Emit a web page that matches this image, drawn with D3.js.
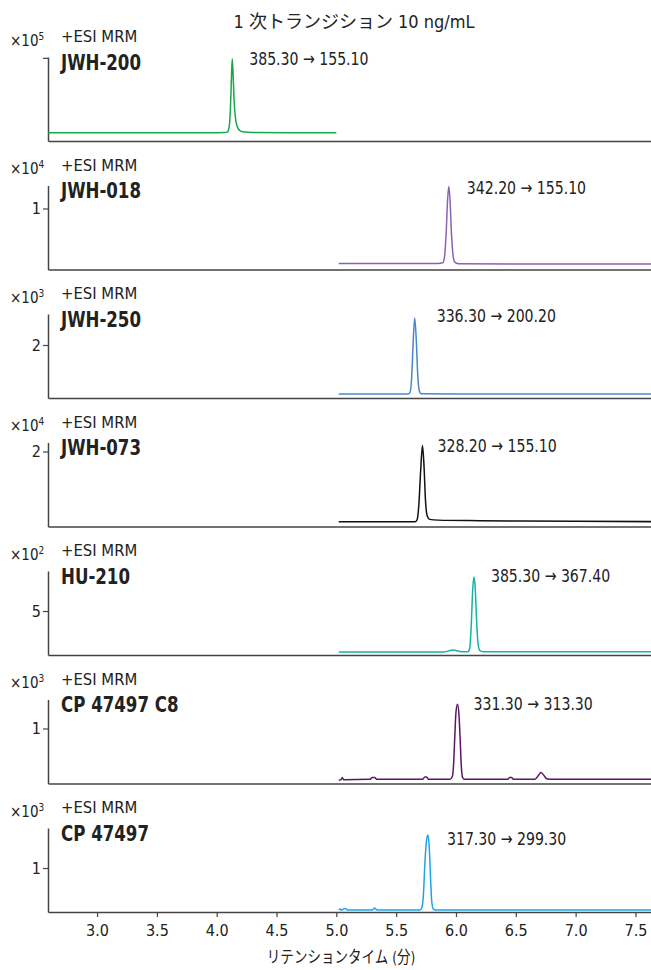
<!DOCTYPE html>
<html>
<head>
<meta charset="utf-8">
<script src="https://cdn.jsdelivr.net/npm/d3@7"></script>
<style>
  html, body { margin: 0; padding: 0; background: #fff; }
  svg text { font-family: "DejaVu Sans Condensed", "Noto Sans CJK JP", sans-serif; fill: #222; }
</style>
</head>
<body>
<svg id="chart" width="651" height="970"></svg>
<script>
// MRM chromatograms, primary transitions, 10 ng/mL
const compounds   = ["JWH-200", "JWH-018", "JWH-250", "JWH-073", "HU-210", "CP 47497 C8", "CP 47497"];
const transitions = ["385.30 → 155.10", "342.20 → 155.10", "336.30 → 200.20", "328.20 → 155.10",
                     "385.30 → 367.40", "331.30 → 313.30", "317.30 → 299.30"];
const scanMode    = "+ESI MRM";
const exponents   = [5, 4, 3, 4, 2, 3, 3];
const yTickValues = [1, 1, 2, 2, 5, 1, 1];
const yTickLabels = ["", "1", "2", "2", "5", "1", "1"];
const yMaxValues  = [1.01, 1.377, 3.17, 2.24, 9.55, 1.527, 1.91];
const xTicks      = [3.0, 3.5, 4.0, 4.5, 5.0, 5.5, 6.0, 6.5, 7.0, 7.5];
const xTickLabels = ["3.0", "3.5", "4.0", "4.5", "5.0", "5.5", "6.0", "6.5", "7.0", "7.5"];
const xDomain     = [2.59, 7.63];
const peakTimes   = [4.13, 5.94, 5.655, 5.72, 6.15, 6.013, 5.766];

// [retention time (min), intensity (x10^n counts)]
const traceJWH200 = [[2.59,0.10],[3.50,0.10],[4.00,0.10],[4.07,0.102],[4.09,0.11],[4.105,0.18],[4.115,0.40],
  [4.123,0.75],[4.13,0.99],[4.137,0.80],[4.145,0.50],[4.155,0.30],[4.17,0.18],[4.19,0.13],[4.22,0.11],
  [4.30,0.102],[4.60,0.10],[5.00,0.10]];
const traceJWH018 = [[5.02,0.10],[5.50,0.10],[5.85,0.10],[5.89,0.11],[5.905,0.22],[5.918,0.60],[5.93,1.15],
  [5.94,1.36],[5.95,1.15],[5.962,0.60],[5.975,0.24],[5.99,0.12],[6.02,0.095],[6.50,0.09],[7.63,0.09]];
const traceJWH250 = [[5.02,0.15],[5.40,0.15],[5.60,0.15],[5.615,0.20],[5.63,0.80],[5.642,2.10],[5.655,3.02],
  [5.668,2.20],[5.68,0.90],[5.695,0.25],[5.71,0.16],[6.00,0.15],[7.63,0.15]];
const traceJWH073 = [[5.02,0.13],[5.50,0.13],[5.66,0.13],[5.675,0.18],[5.69,0.60],[5.705,1.50],[5.72,2.16],
  [5.733,1.60],[5.745,0.70],[5.76,0.28],[5.78,0.19],[5.85,0.17],[6.20,0.155],[7.00,0.14],[7.63,0.13]];
const traceHU210  = [[5.02,0.34],[5.50,0.34],[5.90,0.35],[5.95,0.50],[5.975,0.58],[6.00,0.50],[6.05,0.36],
  [6.10,0.37],[6.115,0.80],[6.128,3.50],[6.14,7.50],[6.15,8.86],[6.16,7.80],[6.172,4.00],[6.185,1.20],
  [6.20,0.50],[6.23,0.38],[6.50,0.36],[7.63,0.36]];
const traceCP47497C8 = [[5.02,0.06],[5.04,0.07],[5.05,0.11],[5.06,0.07],[5.28,0.075],[5.30,0.11],[5.32,0.11],
  [5.34,0.075],[5.72,0.075],[5.74,0.12],[5.755,0.12],[5.77,0.075],[5.95,0.075],[5.97,0.13],[5.98,0.35],
  [5.99,0.85],[6.00,1.30],[6.013,1.44],[6.025,1.25],[6.035,0.80],[6.045,0.30],[6.055,0.11],[6.07,0.075],
  [6.43,0.075],[6.45,0.11],[6.465,0.11],[6.48,0.075],[6.66,0.075],[6.69,0.15],[6.71,0.20],[6.73,0.16],
  [6.76,0.085],[6.80,0.075],[7.63,0.075]];
const traceCP47497 = [[5.02,0.045],[5.035,0.07],[5.045,0.04],[5.06,0.07],[5.075,0.08],[5.09,0.05],[5.10,0.045],
  [5.30,0.045],[5.32,0.09],[5.34,0.045],[5.70,0.045],[5.715,0.10],[5.728,0.40],[5.74,1.10],[5.755,1.65],
  [5.766,1.75],[5.776,1.50],[5.787,0.80],[5.797,0.25],[5.81,0.07],[5.83,0.045],[7.63,0.045]];
const traces = [traceJWH200, traceJWH018, traceJWH250, traceJWH073, traceHU210, traceCP47497C8, traceCP47497];

// styling / layout
const colors = ["#17a84b", "#8b62b3", "#4a86cf", "#111111", "#17b2a8", "#5b1763", "#1ca6e6"];
const labelDx = [17, 18, 22, 15, 17, 16, 19];
const labelDy = [-76, -76, -76, -75, -73, -74, -67];
const firstBottom = 141, panelStep = 128.5, panelHeight = 84;
const left = 48, right = 651;

const svg = d3.select("#chart");
const x = d3.scaleLinear().domain(xDomain).range([left, right]);
const line = d3.line().curve(d3.curveMonotoneX);

// text drawn with a narrow horizontal squeeze (condensed face)
function label(parent, tx, ty, str, size, sx, opts = {}) {
  const t = parent.append("text")
    .attr("transform", `translate(${tx},${ty}) scale(${sx},1)`)
    .style("font-size", size + "px")
    .text(str);
  if (opts.bold) t.style("font-weight", "bold");
  if (opts.anchor) t.attr("text-anchor", opts.anchor);
  return t;
}

label(svg, 354, 28, "1 次トランジション 10 ng/mL", 18, 1, { anchor: "middle" });

compounds.forEach((name, i) => {
  const bottom = firstBottom + i * panelStep;
  const y = d3.scaleLinear().domain([0, yMaxValues[i]]).range([bottom, bottom - panelHeight]);
  const g = svg.append("g");

  // y axis
  const yAxis = d3.axisLeft(y).tickValues([yTickValues[i]]).tickSize(5).tickSizeOuter(0)
    .tickFormat(() => yTickLabels[i]);
  const ya = g.append("g").attr("transform", `translate(${left},0)`).call(yAxis);
  ya.select(".domain").attr("stroke", "#444").attr("stroke-width", 1.5);
  ya.selectAll(".tick line").attr("stroke", "#444").attr("stroke-width", 1.2);
  ya.selectAll(".tick text").attr("x", -7).style("font-size", "16px").attr("fill", "#222")
    .style("font-family", "'DejaVu Sans Condensed', sans-serif");

  // x axis (ticks only on the last panel)
  const isLast = i === compounds.length - 1;
  const xAxis = d3.axisBottom(x).tickValues(isLast ? xTicks : []).tickSize(5).tickSizeOuter(0)
    .tickFormat((d, k) => xTickLabels[k]);
  const xa = g.append("g").attr("transform", `translate(0,${bottom})`).call(xAxis);
  xa.select(".domain").attr("stroke", "#444").attr("stroke-width", 1.5);
  xa.selectAll(".tick line").attr("stroke", "#444").attr("stroke-width", 1.2);
  xa.selectAll(".tick text").attr("y", 13).style("font-size", "16px").attr("fill", "#222")
    .style("font-family", "'DejaVu Sans Condensed', sans-serif");

  // trace
  g.append("path")
    .datum(traces[i].map(p => [x(p[0]), y(p[1])]))
    .attr("d", line)
    .attr("fill", "none")
    .attr("stroke", colors[i])
    .attr("stroke-width", 1.5);

  // multiplier
  const mult = g.append("text").attr("x", 10).attr("y", bottom - 95.5).style("font-size", "15px");
  mult.append("tspan").text("×10");
  mult.append("tspan").attr("dy", -6).style("font-size", "10px").text(exponents[i]);

  label(g, 61, bottom - 99, scanMode, 16.5, 1);
  label(g, 61, bottom - 71.5, name, 21, 0.88, { bold: true });
  label(g, x(peakTimes[i]) + labelDx[i], bottom + labelDy[i], transitions[i], 18, 0.87);
});

label(svg, 341, 963, "リテンションタイム (分)", 16.5, 0.82, { anchor: "middle" });
</script>
</body>
</html>
